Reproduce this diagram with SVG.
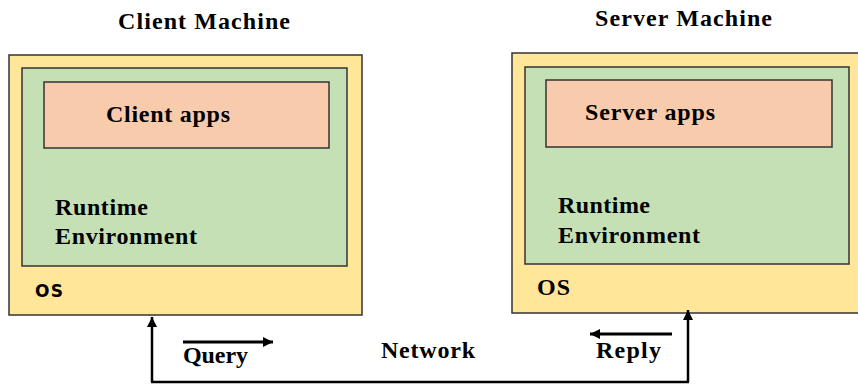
<svg xmlns="http://www.w3.org/2000/svg" width="858" height="385" viewBox="0 0 858 385">
  <defs>
    <marker id="ah" viewBox="0 0 10 10" refX="10" refY="5" markerWidth="10" markerHeight="10" markerUnits="userSpaceOnUse" orient="auto">
      <path d="M0,0 L10,5 L0,10 Z" fill="#000"/>
    </marker>
    <marker id="ahs" viewBox="0 0 10 10" refX="10" refY="5" markerWidth="10" markerHeight="10" markerUnits="userSpaceOnUse" orient="auto">
      <path d="M0,0 L10,5 L0,10 Z" fill="#000"/>
    </marker>
  </defs>
  <style>
    .os { fill: #FFE699; stroke: #333; stroke-width: 1.5; }
    .rt { fill: #C5E0B4; stroke: #333; stroke-width: 1.5; }
    .app { fill: #F8CBAD; stroke: #333; stroke-width: 1.5; }
    .t { font-family: "Liberation Serif", "Times New Roman", serif; font-weight: bold; font-size: 24px; fill: #000; }
    .sans { font-family: "DejaVu Sans", "Liberation Sans", sans-serif; font-weight: bold; font-size: 17px; fill: #000; }
    .ln { stroke: #000; stroke-width: 2.5; fill: none; }
    .sm { stroke: #000; stroke-width: 3; fill: none; }
  </style>
  <rect width="858" height="385" fill="#fff"/>

  <g id="client">
    <text class="t" x="118" y="29" textLength="172">Client Machine</text>
    <rect class="os" x="9" y="55" width="353" height="260"/>
    <rect class="rt" x="22" y="68" width="325" height="198"/>
    <rect class="app" x="44" y="82" width="285" height="66"/>
    <text class="t" x="106" y="122" textLength="124">Client apps</text>
    <text class="t" x="55" y="215" textLength="93">Runtime</text>
    <text class="t" x="55" y="244" textLength="142">Environment</text>
    <text class="sans" x="35" y="297" textLength="28">OS</text>
  </g>

  <g id="server">
    <text class="t" x="595" y="26" textLength="177">Server Machine</text>
    <rect class="os" x="512" y="53" width="360" height="260"/>
    <rect class="rt" x="525" y="67" width="324" height="197"/>
    <rect class="app" x="546" y="80" width="286" height="67"/>
    <text class="t" x="585" y="120" textLength="130">Server apps</text>
    <text class="t" x="558" y="213" textLength="92">Runtime</text>
    <text class="t" x="558" y="243" textLength="142">Environment</text>
    <text class="t" x="537" y="295" textLength="33">OS</text>
  </g>

  <g id="connectors">
    <path class="ln" d="M152,382 L152,317" marker-end="url(#ah)"/>
    <path class="ln" d="M688,382 L688,310" marker-end="url(#ah)"/>
    <path class="ln" d="M151,382 L689,382"/>
    <path class="sm" d="M183,342 L273,342" marker-end="url(#ahs)"/>
    <path class="sm" d="M672,334 L590,334" marker-end="url(#ahs)"/>
  </g>

  <g id="labels">
    <text class="t" x="183" y="363" textLength="65">Query</text>
    <text class="t" x="381" y="358" textLength="94">Network</text>
    <text class="t" x="596" y="358" textLength="65">Reply</text>
  </g>
</svg>
